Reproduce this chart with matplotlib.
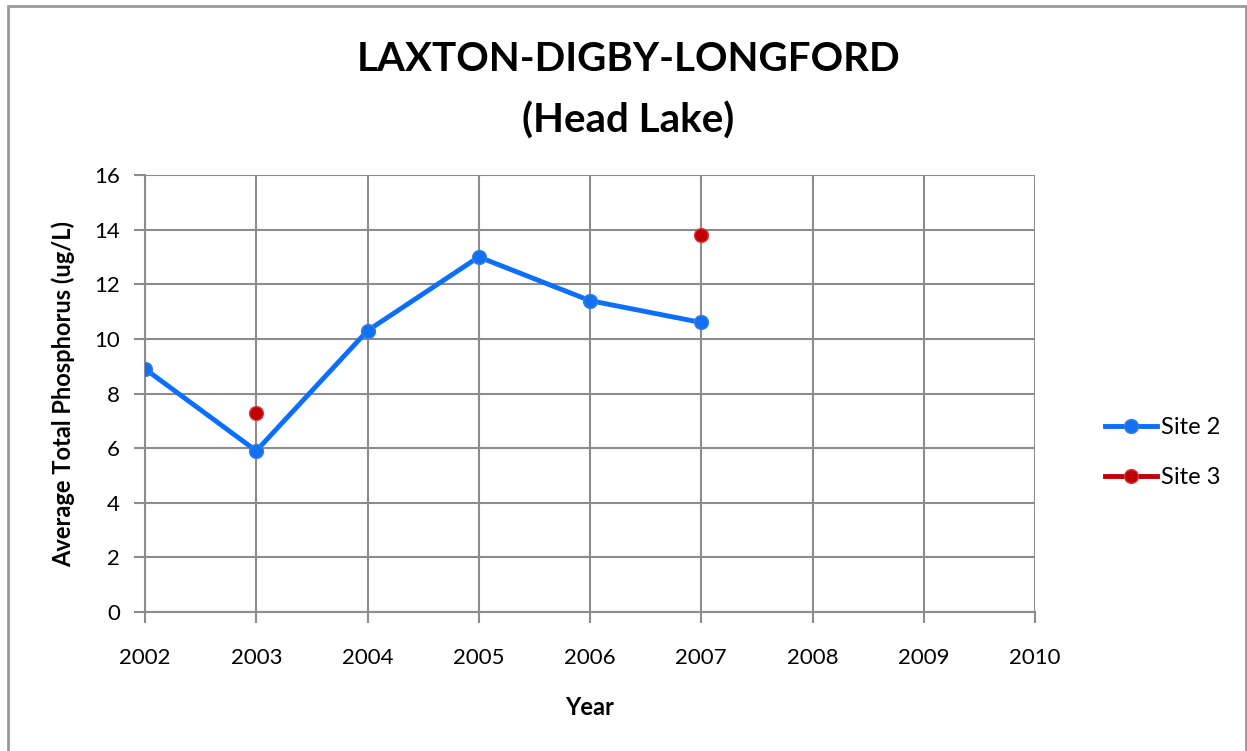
import numpy as np
import matplotlib.pyplot as plt
from matplotlib.patches import Rectangle

years = [2002, 2003, 2004, 2005, 2006, 2007]
site2 = [8.9, 5.9, 10.3, 13.0, 11.4, 10.6]
site3_years = [2003, 2007]
site3 = [7.3, 13.8]

# missing years stay as gaps so the site 3 points are not joined
site3_full = [site3[site3_years.index(y)] if y in site3_years else np.nan for y in years]

plt.rcParams['font.family'] = ['Lato', 'DejaVu Sans']

fig = plt.figure(figsize=(12.47, 7.51), dpi=100)
ax = fig.add_axes([0.1163, 0.185, 0.7137, 0.582])

# outer chart border (Excel-style)
fig.patches.append(Rectangle((8 / 1247, -0.05), (1246 - 8) / 1247, 1.05 - 6 / 751,
                             transform=fig.transFigure, fill=False,
                             edgecolor='#999999', linewidth=2))

ax.plot(years, site2, color='#0A6EFF', linewidth=3.5, marker='o', markersize=10,
        markerfacecolor='#1270F5', markeredgecolor='#3A7FD8', markeredgewidth=1,
        label='Site 2', zorder=3)
ax.plot(years, site3_full, color='#C00000', linewidth=3.5,
        marker='o', markersize=10, markerfacecolor='#C00000',
        markeredgecolor='#D04040', markeredgewidth=1, label='Site 3', zorder=3)

ax.set_xlim(2002, 2010)
ax.set_ylim(0, 16)
ax.set_xticks(range(2002, 2011))
ax.set_yticks(range(0, 17, 2))
ax.grid(True, color='#8c8c8c', linewidth=1.5)
ax.set_axisbelow(True)
for s in ['top', 'right']:
    ax.spines[s].set_visible(False)
for s in ['left', 'bottom']:
    ax.spines[s].set_color('#8c8c8c')
    ax.spines[s].set_linewidth(1.5)
ax.tick_params(direction='out', length=8, width=1.5, color='#8c8c8c',
               labelsize=16, pad=10)
ax.tick_params(axis='x', pad=18)

ax.set_xlabel('Year', fontsize=17, fontweight='bold', labelpad=20)
ax.set_ylabel('Average Total Phosphorus (ug/L)', fontsize=17, fontweight='bold', labelpad=14)

fig.suptitle('LAXTON-DIGBY-LONGFORD\n(Head Lake)', fontsize=29, fontweight='bold',
             x=0.504, y=0.945, linespacing=1.75)

ax.legend(loc='center left', bbox_to_anchor=(1.055, 0.365), frameon=False,
          fontsize=17, handlelength=2.2, handletextpad=0.15, labelspacing=1.25)

fig.savefig('out.png', dpi=100)
